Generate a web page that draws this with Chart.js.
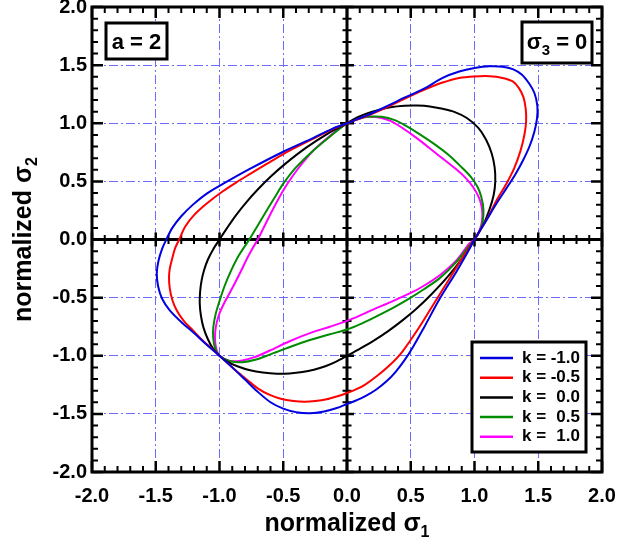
<!DOCTYPE html>
<html>
<head>
<meta charset="utf-8">
<script src="https://cdn.jsdelivr.net/npm/chart.js@4.4.1/dist/chart.umd.min.js"></script>
<style>
html,body{margin:0;padding:0;background:#fff;}
</style>
</head>
<body>
<canvas id="chart" width="618" height="547"></canvas>
<script>
// yield loci, a = 2, sigma3 = 0
const kValues = [-1.0, -0.5, 0.0, 0.5, 1.0];
const kColors = ["#0000e0", "#ff0000", "#000000", "#008c00", "#ff00ff"];
const tickValues = [-2.0, -1.5, -1.0, -0.5, 0.0, 0.5, 1.0, 1.5, 2.0];

const s1_km10 = [0, 0.15, 0.3, 0.45, 0.6, 0.75, 0.88, 1.0, 1.12, 1.22, 1.30, 1.37, 1.43, 1.47, 1.493, 1.49, 1.47, 1.431, 1.38, 1.32, 1.25, 1.17, 1.09, 1.0, 0.948, 0.857, 0.727, 0.6, 0.52, 0.45, 0.38, 0.31, 0.23, 0.14, 0.07, 0, -0.08, -0.18, -0.29, -0.4, -0.5, -0.6, -0.7, -0.8, -0.9, -1.0, -1.1, -1.2, -1.3, -1.39, -1.45, -1.482, -1.492, -1.478, -1.45, -1.417, -1.37, -1.30, -1.208, -1.10, -0.97, -0.766, -0.5, -0.263, -0.12, 0];
const s2_km10 = [1, 1.065, 1.14, 1.22, 1.295, 1.39, 1.445, 1.475, 1.49, 1.487, 1.466, 1.42, 1.34, 1.26, 1.15, 1.04, 0.93, 0.80, 0.68, 0.56, 0.44, 0.305, 0.16, 0, -0.106, -0.28, -0.51, -0.765, -0.92, -1.04, -1.14, -1.22, -1.29, -1.35, -1.385, -1.415, -1.45, -1.48, -1.495, -1.485, -1.455, -1.40, -1.31, -1.205, -1.1, -1.0, -0.905, -0.805, -0.71, -0.61, -0.51, -0.40, -0.29, -0.18, -0.08, 0, 0.10, 0.20, 0.30, 0.395, 0.48, 0.605, 0.755, 0.875, 0.95, 1];

const s1_km05 = [0, 0.15, 0.3, 0.45, 0.6, 0.75, 0.88, 1.0, 1.12, 1.22, 1.30, 1.35, 1.385, 1.402, 1.405, 1.393, 1.36, 1.31, 1.25, 1.18, 1.1, 1.04, 1.0, 0.909, 0.805, 0.674, 0.56, 0.43, 0.336, 0.24, 0.14, 0.07, 0, -0.08, -0.16, -0.25, -0.33, -0.42, -0.52, -0.61, -0.70, -0.78, -0.87, -0.94, -1.0, -1.06, -1.13, -1.21, -1.28, -1.335, -1.37, -1.39, -1.396, -1.39, -1.37, -1.35, -1.316, -1.27, -1.20, -1.10, -0.974, -0.87, -0.766, -0.63, -0.5, -0.263, -0.12, 0];
const s2_km05 = [1, 1.06, 1.13, 1.21, 1.285, 1.35, 1.39, 1.403, 1.405, 1.39, 1.36, 1.30, 1.22, 1.12, 1.02, 0.91, 0.76, 0.61, 0.48, 0.35, 0.18, 0.07, 0, -0.15, -0.335, -0.565, -0.765, -0.97, -1.08, -1.17, -1.25, -1.29, -1.32, -1.35, -1.375, -1.39, -1.396, -1.39, -1.37, -1.335, -1.28, -1.21, -1.13, -1.06, -1.0, -0.94, -0.87, -0.78, -0.70, -0.61, -0.52, -0.42, -0.33, -0.25, -0.16, -0.08, 0, 0.11, 0.21, 0.31, 0.415, 0.49, 0.56, 0.65, 0.735, 0.868, 0.945, 1];

const s1_k00 = [0, 0.08, 0.157, 0.25, 0.34, 0.45, 0.55, 0.65, 0.75, 0.837, 0.94, 1.03, 1.09, 1.135, 1.158, 1.163, 1.15, 1.118, 1.07, 1.0, 0.905, 0.79, 0.655, 0.54, 0.43, 0.32, 0.21, 0.10, 0, -0.085, -0.17, -0.26, -0.35, -0.45, -0.55, -0.66, -0.76, -0.86, -0.94, -1.0, -1.05, -1.09, -1.125, -1.145, -1.155, -1.152, -1.14, -1.12, -1.09, -1.05, -1.0, -0.94, -0.87, -0.79, -0.70, -0.6, -0.48, -0.32, -0.16, 0];
const s2_k00 = [1, 1.05, 1.085, 1.115, 1.137, 1.15, 1.152, 1.145, 1.125, 1.10, 1.045, 0.96, 0.86, 0.74, 0.62, 0.5, 0.38, 0.26, 0.13, 0, -0.16, -0.32, -0.48, -0.60, -0.70, -0.79, -0.87, -0.94, -1.0, -1.05, -1.09, -1.12, -1.14, -1.152, -1.155, -1.145, -1.125, -1.09, -1.05, -1.0, -0.94, -0.86, -0.76, -0.66, -0.55, -0.45, -0.35, -0.26, -0.17, -0.085, 0, 0.10, 0.21, 0.32, 0.43, 0.54, 0.655, 0.79, 0.905, 1];

const s1_k05 = [0, 0.08, 0.16, 0.27, 0.38, 0.46, 0.55, 0.68, 0.80, 0.90, 0.97, 1.025, 1.055, 1.07, 1.065, 1.04, 1.0, 0.96, 0.86, 0.73, 0.6, 0.5, 0.35, 0.2, 0.1, 0, -0.134, -0.291, -0.448, -0.605, -0.72, -0.82, -0.92, -1.0, -1.035, -1.05, -1.048, -1.03, -1.0, -0.96, -0.91, -0.85, -0.766, -0.70, -0.63, -0.56, -0.5, -0.40, -0.27, -0.14, -0.06, 0];
const s2_k05 = [1, 1.035, 1.055, 1.055, 1.025, 0.98, 0.92, 0.825, 0.725, 0.62, 0.54, 0.45, 0.36, 0.26, 0.16, 0.07, 0, -0.05, -0.19, -0.33, -0.43, -0.50, -0.595, -0.678, -0.73, -0.774, -0.815, -0.865, -0.925, -0.99, -1.035, -1.055, -1.045, -1.0, -0.935, -0.84, -0.75, -0.64, -0.53, -0.40, -0.27, -0.14, 0, 0.12, 0.25, 0.375, 0.48, 0.62, 0.76, 0.88, 0.95, 1];

const s1_k10 = [0, 0.08, 0.18, 0.27, 0.34, 0.42, 0.55, 0.70, 0.85, 0.93, 0.99, 1.035, 1.058, 1.06, 1.04, 1.0, 0.96, 0.86, 0.73, 0.6, 0.5, 0.35, 0.2, 0.1, 0, -0.134, -0.291, -0.45, -0.605, -0.72, -0.82, -0.92, -1.0, -1.025, -1.035, -1.03, -1.005, -0.96, -0.915, -0.84, -0.78, -0.74, -0.70, -0.65, -0.60, -0.54, -0.47, -0.38, -0.264, -0.14, -0.06, 0];
const s2_k10 = [1, 1.04, 1.055, 1.045, 1.02, 0.97, 0.87, 0.74, 0.61, 0.53, 0.45, 0.36, 0.27, 0.17, 0.08, 0, -0.034, -0.178, -0.305, -0.40, -0.46, -0.535, -0.605, -0.655, -0.70, -0.75, -0.805, -0.875, -0.955, -1.01, -1.04, -1.045, -1.0, -0.94, -0.86, -0.76, -0.65, -0.54, -0.45, -0.29, -0.155, -0.075, 0, 0.11, 0.22, 0.345, 0.475, 0.615, 0.765, 0.885, 0.955, 1];

const sigma1 = [s1_km10, s1_km05, s1_k00, s1_k05, s1_k10];
const sigma2 = [s2_km10, s2_km05, s2_k00, s2_k05, s2_k10];

const FONT = '"Liberation Sans", Arial, sans-serif';

function fmtK(k){
    return (k < 0 ? "-" : "") + Math.abs(k).toFixed(1);
}

const datasets = kValues.map((k, i) => ({
    label: "k = " + fmtK(k),
    data: sigma1[i].map((v, j) => ({x: v, y: sigma2[i][j]})),
    showLine: true,
    borderColor: kColors[i],
    backgroundColor: kColors[i],
    borderWidth: 2,
    pointRadius: 0,
    tension: 0.3,
    fill: false
}));

const decor = {
    id: "decor",
    beforeDatasetsDraw(chart){
        const {ctx, chartArea: a, scales: {x, y}} = chart;
        const x0 = x.getPixelForValue(0), y0 = y.getPixelForValue(0);
        ctx.save();
        ctx.strokeStyle = "#000";
        for(let i = -20; i <= 20; i++){
            const v = i / 10;
            const major = i % 5 === 0;
            const px = x.getPixelForValue(v), py = y.getPixelForValue(v);
            const L = major ? 11 : 6;
            const h = major ? 7 : 4.5;
            ctx.lineWidth = major ? 2.5 : 2;
            ctx.beginPath();
            ctx.moveTo(px, a.top); ctx.lineTo(px, a.top + L);
            ctx.moveTo(px, a.bottom); ctx.lineTo(px, a.bottom - L);
            ctx.moveTo(a.left, py); ctx.lineTo(a.left + L, py);
            ctx.moveTo(a.right, py); ctx.lineTo(a.right - L, py);
            ctx.moveTo(px, y0 - h); ctx.lineTo(px, y0 + h);
            ctx.moveTo(x0 - h, py); ctx.lineTo(x0 + h, py);
            ctx.stroke();
        }
        ctx.lineWidth = 3;
        ctx.beginPath();
        ctx.moveTo(x0, a.top); ctx.lineTo(x0, a.bottom);
        ctx.moveTo(a.left, y0); ctx.lineTo(a.right, y0);
        ctx.stroke();
        ctx.strokeRect(a.left, a.top, a.right - a.left, a.bottom - a.top);
        ctx.restore();
    },
    afterDatasetsDraw(chart){
        const {ctx, chartArea: a} = chart;
        ctx.save();
        ctx.lineWidth = 3;
        ctx.strokeStyle = "#000";
        ctx.fillStyle = "#000";

        // a = 2 box
        ctx.fillStyle = "#fff";
        ctx.fillRect(a.left + 14, a.top + 16, 61, 36);
        ctx.strokeRect(a.left + 14, a.top + 16, 61, 36);
        ctx.fillStyle = "#000";
        ctx.font = "bold 22px " + FONT;
        ctx.textBaseline = "alphabetic";
        ctx.textAlign = "center";
        ctx.fillText("a = 2", a.left + 44.5, a.top + 42);

        // sigma3 = 0 box
        const bx = a.right - 80, by = a.top + 15;
        ctx.fillStyle = "#fff";
        ctx.fillRect(bx, by, 70, 41);
        ctx.strokeRect(bx, by, 70, 41);
        ctx.fillStyle = "#000";
        ctx.textAlign = "left";
        ctx.font = "bold 22px " + FONT;
        const ws = ctx.measureText("σ").width;
        ctx.font = "bold 15px " + FONT;
        const w3 = ctx.measureText("3").width;
        ctx.font = "bold 22px " + FONT;
        const wr = ctx.measureText(" = 0").width;
        let sx = bx + 35 - (ws + w3 + wr) / 2;
        ctx.fillText("σ", sx, by + 27);
        ctx.font = "bold 15px " + FONT;
        ctx.fillText("3", sx + ws, by + 33);
        ctx.font = "bold 22px " + FONT;
        ctx.fillText(" = 0", sx + ws + w3, by + 27);

        // legend
        const lx = a.left + 380, ly = a.top + 335;
        ctx.fillStyle = "#fff";
        ctx.fillRect(lx, ly, 114, 110);
        ctx.strokeRect(lx, ly, 114, 110);
        ctx.font = "bold 17px " + FONT;
        ctx.textBaseline = "middle";
        chart.data.datasets.forEach((ds, i) => {
            const ry = ly + 16 + i * 19.7;
            ctx.strokeStyle = ds.borderColor;
            ctx.lineWidth = 2.5;
            ctx.beginPath();
            ctx.moveTo(lx + 8, ry); ctx.lineTo(lx + 41, ry);
            ctx.stroke();
            ctx.fillStyle = "#000";
            ctx.textAlign = "left";
            ctx.fillText("k =", lx + 50, ry);
            ctx.textAlign = "right";
            ctx.fillText(fmtK(kValues[i]), lx + 108, ry);
        });
        ctx.restore();
    },
    afterDraw(chart){
        const {ctx, chartArea: a} = chart;
        ctx.save();
        ctx.fillStyle = "#000";
        ctx.textAlign = "left";
        ctx.textBaseline = "alphabetic";
        const main = "normalized σ";
        ctx.font = "bold 25px " + FONT;
        const wm = ctx.measureText(main).width;
        ctx.font = "bold 16px " + FONT;
        const w1 = ctx.measureText("1").width;
        const cx = (a.left + a.right) / 2;
        let sx = cx - (wm + w1) / 2;
        ctx.font = "bold 25px " + FONT;
        ctx.fillText(main, sx, 531);
        ctx.font = "bold 16px " + FONT;
        ctx.fillText("1", sx + wm, 537);

        ctx.translate(31, (a.top + a.bottom) / 2);
        ctx.rotate(-Math.PI / 2);
        sx = -(wm + w1) / 2;
        ctx.font = "bold 25px " + FONT;
        ctx.fillText(main, sx, 0);
        ctx.font = "bold 16px " + FONT;
        ctx.fillText("2", sx + wm, 6);
        ctx.restore();
    }
};

const gridOpts = {
    color: "#6b6bff",
    lineWidth: 1,
    drawTicks: false
};

new Chart(document.getElementById("chart"), {
    type: "scatter",
    data: {datasets: datasets},
    options: {
        responsive: false,
        animation: false,
        layout: {padding: {left: 0, top: 7, right: 16, bottom: 0}},
        plugins: {legend: {display: false}, tooltip: {enabled: false}},
        scales: {
            x: {
                type: "linear", min: -2, max: 2,
                afterBuildTicks: s => { s.ticks = tickValues.map(v => ({value: v})); },
                afterFit: s => { s.height = 75; s.paddingLeft = 0; s.paddingRight = 0; },
                grid: gridOpts,
                border: {display: false, dash: [9, 3, 2, 3]},
                ticks: {
                    padding: 12,
                    color: "#000",
                    font: {family: FONT, size: 20, weight: "bold"},
                    callback: v => v.toFixed(1)
                }
            },
            y: {
                type: "linear", min: -2, max: 2,
                afterBuildTicks: s => { s.ticks = tickValues.map(v => ({value: v})); },
                afterFit: s => { s.width = 92; s.paddingTop = 0; s.paddingBottom = 0; },
                grid: gridOpts,
                border: {display: false, dash: [9, 3, 2, 3]},
                ticks: {
                    padding: 5,
                    color: "#000",
                    font: {family: FONT, size: 20, weight: "bold"},
                    callback: v => v.toFixed(1)
                }
            }
        }
    },
    plugins: [decor]
});
</script>
</body>
</html>
